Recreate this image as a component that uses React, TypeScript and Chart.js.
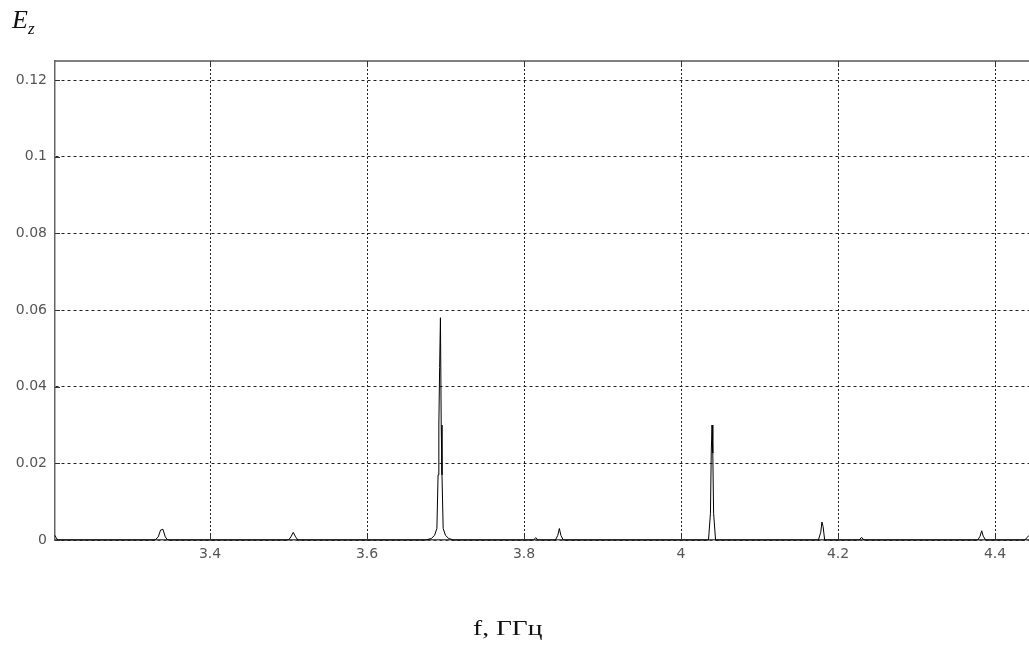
import React, { useEffect, useRef } from "react";
import { Chart, registerables } from "chart.js";

Chart.register(...registerables);

// Frequency, GHz
const freq: number[] = [
  3.2025, 3.204, 3.206,
  3.33, 3.334, 3.337, 3.34, 3.343, 3.346,
  3.5, 3.503, 3.506, 3.509, 3.512,
  3.675, 3.682, 3.686, 3.689, 3.6905, 3.6915, 3.6925, 3.6935, 3.6945, 3.6955, 3.697, 3.7, 3.704, 3.71,
  3.812, 3.815, 3.818,
  3.84, 3.843, 3.845, 3.847, 3.85,
  4.035, 4.0375, 4.0385, 4.0395, 4.0405, 4.0415, 4.044,
  4.175, 4.178, 4.1795, 4.181, 4.183,
  4.227, 4.23, 4.233,
  4.378, 4.381, 4.383, 4.385, 4.388,
  4.438, 4.4433,
];
// |Ez| amplitude
const ez: number[] = [
  0.0012, 0.0006, 0,
  0, 0.0008, 0.0026, 0.0028, 0.0008, 0,
  0, 0.0008, 0.002, 0.0008, 0,
  0, 0.0004, 0.0012, 0.003, 0.017, 0.03, 0.045, 0.058, 0.03, 0.017, 0.003, 0.0012, 0.0004, 0,
  0, 0.0006, 0,
  0, 0.0012, 0.003, 0.0012, 0,
  0, 0.007, 0.0227, 0.03, 0.0227, 0.007, 0,
  0, 0.002, 0.0047, 0.0035, 0,
  0, 0.0007, 0,
  0, 0.001, 0.0024, 0.001, 0,
  0, 0.0012,
];

const xTickValues: number[] = [3.4, 3.6, 3.8, 4, 4.2, 4.4];
const yTickValues: number[] = [0, 0.02, 0.04, 0.06, 0.08, 0.1, 0.12];
const xMin = 3.2025;
const xMax = 4.4433;
const yMin = 0;
const yMax = 0.125;

const W = 1029;
const H = 646;

const framePlugin = {
  id: "frameTicks",
  afterDraw(chart: any) {
    const { ctx, chartArea, scales } = chart;
    const { left, right, top, bottom } = chartArea;
    ctx.save();
    ctx.strokeStyle = "#555";
    ctx.lineWidth = 1.5;
    ctx.beginPath();
    ctx.moveTo(left, top);
    ctx.lineTo(right, top);
    ctx.stroke();
    ctx.strokeStyle = "#333";
    ctx.lineWidth = 1;
    ctx.beginPath();
    for (const v of xTickValues) {
      const px = Math.round(scales.x.getPixelForValue(v)) + 0.5;
      ctx.moveTo(px, bottom);
      ctx.lineTo(px, bottom - 5);
      ctx.moveTo(px, top);
      ctx.lineTo(px, top + 5);
    }
    for (const v of yTickValues) {
      const py = Math.round(scales.y.getPixelForValue(v)) + 0.5;
      ctx.moveTo(left, py);
      ctx.lineTo(left + 5, py);
    }
    ctx.stroke();
    ctx.restore();
  },
};

export default function App() {
  const ref = useRef<HTMLCanvasElement | null>(null);

  useEffect(() => {
    document.body.style.margin = "0";
    const canvas = ref.current;
    if (!canvas) return;
    const data = freq.map((f, i) => ({ x: f, y: ez[i] }));
    const chart = new Chart(canvas, {
      type: "line",
      data: {
        datasets: [
          {
            data,
            borderColor: "#000",
            borderWidth: 1,
            pointRadius: 0,
            tension: 0,
            fill: false,
            clip: false as any,
          },
        ],
      },
      options: {
        responsive: false,
        animation: false,
        devicePixelRatio: 1,
        layout: { padding: { top: 61, left: 0, right: 0, bottom: 0 } },
        plugins: {
          legend: { display: false },
          tooltip: { enabled: false },
        },
        scales: {
          x: {
            type: "linear",
            min: xMin,
            max: xMax,
            afterBuildTicks: (s: any) => {
              s.ticks = xTickValues.map((v) => ({ value: v }));
            },
            afterFit: (s: any) => {
              s.height = 106;
            },
            grid: {
              color: "#222",
              lineWidth: 1,
              drawTicks: false,
            },
            border: { display: true, color: "#555", width: 1.5, dash: [2, 2] },
            ticks: {
              padding: 6,
              color: "#555",
              font: { family: "DejaVu Sans", size: 14 },
              maxRotation: 0,
              autoSkip: false,
              callback: (v: any) => String(Math.round(Number(v) * 10) / 10),
            },
          },
          y: {
            type: "linear",
            min: yMin,
            max: yMax,
            afterBuildTicks: (s: any) => {
              s.ticks = yTickValues.map((v) => ({ value: v }));
            },
            afterFit: (s: any) => {
              s.width = 55;
            },
            grid: {
              color: "#222",
              lineWidth: 1,
              drawTicks: false,
            },
            border: { display: true, color: "#666", width: 1.5, dash: [3, 3] },
            ticks: {
              padding: 8,
              color: "#555",
              font: { family: "DejaVu Sans", size: 14 },
              autoSkip: false,
              callback: (v: any) => String(Math.round(Number(v) * 100) / 100),
            },
          },
        },
      },
      plugins: [framePlugin],
    });
    return () => chart.destroy();
  }, []);

  return (
    <div
      style={{
        position: "absolute",
        left: 0,
        top: 0,
        width: W,
        height: H,
        overflow: "hidden",
        background: "#fff",
      }}
    >
      <canvas ref={ref} width={W} height={H} style={{ width: W, height: H, display: "block" }} />
      <div
        style={{
          position: "absolute",
          left: 12,
          top: 7,
          fontFamily: "'Liberation Serif', serif",
          fontStyle: "italic",
          fontSize: 26,
          color: "#111",
          lineHeight: 1,
        }}
      >
        E<span style={{ fontSize: 17, position: "relative", top: 6 }}>z</span>
      </div>
      <div
        style={{
          position: "absolute",
          left: 473,
          top: 615,
          fontFamily: "'Liberation Serif', serif",
          fontSize: 22,
          color: "#111",
          whiteSpace: "nowrap",
          transform: "scaleX(1.25)",
          transformOrigin: "left top",
          lineHeight: 1.15,
        }}
      >
        f, ГГц
      </div>
    </div>
  );
}
